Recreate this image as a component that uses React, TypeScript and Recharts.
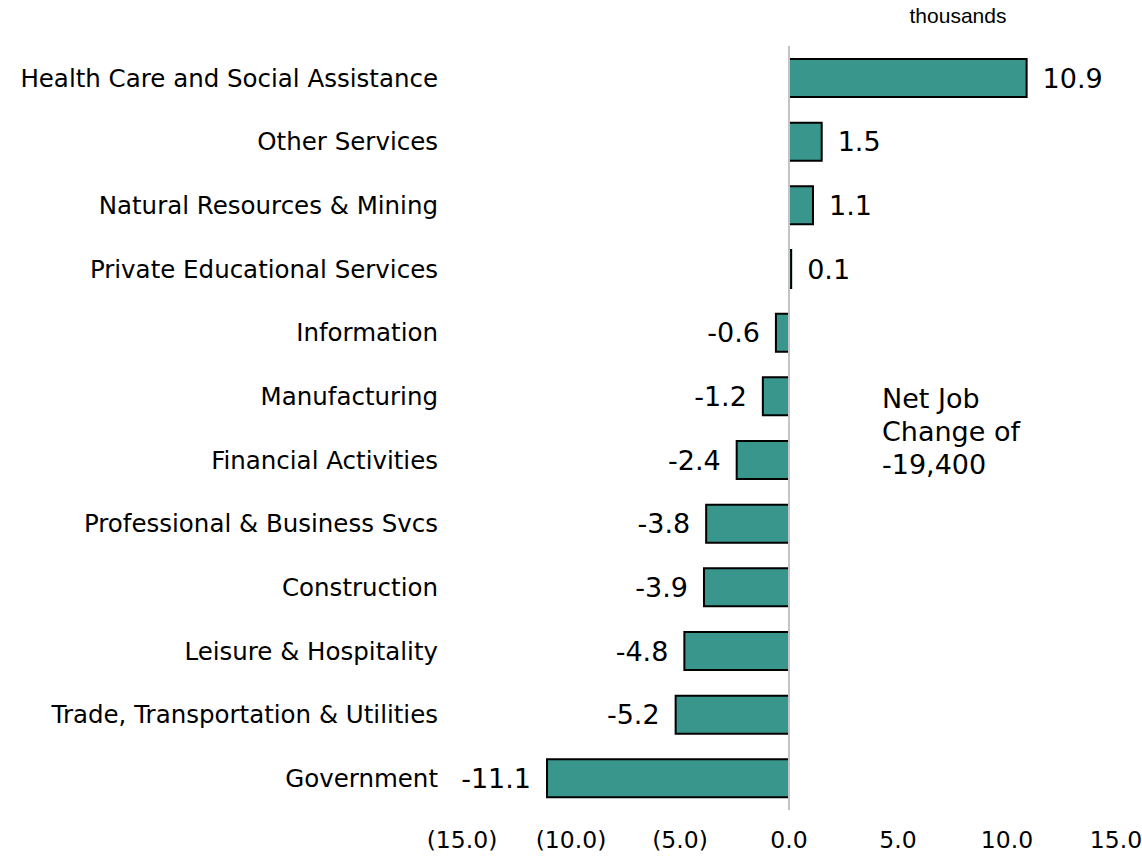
import React from 'react';
import { BarChart, Bar, XAxis, YAxis, ReferenceLine, LabelList } from 'recharts';

const sectors = [
  'Health Care and Social Assistance',
  'Other Services',
  'Natural Resources & Mining',
  'Private Educational Services',
  'Information',
  'Manufacturing',
  'Financial Activities',
  'Professional & Business Svcs',
  'Construction',
  'Leisure & Hospitality',
  'Trade, Transportation & Utilities',
  'Government',
];

const jobChange = [10.9, 1.5, 1.1, 0.1, -0.6, -1.2, -2.4, -3.8, -3.9, -4.8, -5.2, -11.1];

const xTicks = [-15, -10, -5, 0, 5, 10, 15];

const FONT = 'Verdana, "DejaVu Sans", sans-serif';

const data = sectors.map((name, i) => ({ name, value: jobChange[i] }));

const fmtTick = (v: number) => (v < 0 ? `(${Math.abs(v).toFixed(1)})` : v.toFixed(1));

const ValueLabel = (props: any) => {
  const { x, y, width, height, value } = props;
  const neg = value < 0;
  // for negative bars recharts gives x at zero and a negative width
  const left = Math.min(x, x + width);
  const right = Math.max(x, x + width);
  return (
    <text
      x={neg ? left - 16 : right + 16}
      y={y + height / 2}
      textAnchor={neg ? 'end' : 'start'}
      dominantBaseline="central"
      fontFamily={FONT}
      fontSize={27}
      fill="#000"
    >
      {value.toFixed(1)}
    </text>
  );
};

export default function App() {
  return (
    <div style={{ position: 'absolute', left: 0, top: 0, width: 1142, height: 858, background: '#fff' }}>
      <div
        style={{
          position: 'absolute',
          left: 880,
          top: 4,
          width: 156,
          textAlign: 'center',
          fontFamily: '"Liberation Sans", Arial, sans-serif',
          fontSize: 21,
          color: '#000',
        }}
      >
        thousands
      </div>
      <BarChart
        width={1142}
        height={858}
        data={data}
        layout="vertical"
        margin={{ top: 46, right: 26, left: 0, bottom: 0 }}
        barCategoryGap={0}
      >
        <XAxis
          type="number"
          domain={[-15, 15]}
          ticks={xTicks}
          tickFormatter={fmtTick}
          axisLine={false}
          tickLine={false}
          height={48}
          tickMargin={15}
          tick={{ fill: '#000', fontSize: 23.5, fontFamily: FONT }}
          interval={0}
        />
        <YAxis
          type="category"
          dataKey="name"
          width={462}
          axisLine={false}
          tickLine={false}
          tickMargin={18}
          tick={{ fill: '#000', fontSize: 24.5, fontFamily: FONT }}
          interval={0}
        />
        <ReferenceLine x={0} stroke="#c4c4c4" strokeWidth={2} />
        <Bar dataKey="value" fill="#38968c" stroke="#000" strokeWidth={2} barSize={38} isAnimationActive={false}>
          <LabelList dataKey="value" content={<ValueLabel />} />
        </Bar>
      </BarChart>
      <div
        style={{
          position: 'absolute',
          left: 882,
          top: 382,
          fontFamily: FONT,
          fontSize: 27,
          lineHeight: '33px',
          color: '#000',
        }}
      >
        Net Job
        <br />
        Change of
        <br />
        -19,400
      </div>
    </div>
  );
}
